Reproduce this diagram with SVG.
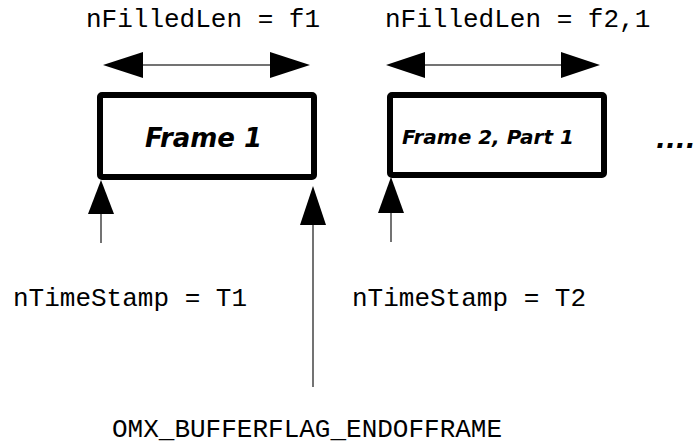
<svg xmlns="http://www.w3.org/2000/svg" width="696" height="444" viewBox="0 0 696 444">
<style>
.box{fill:#fff;stroke:#000;stroke-width:6;stroke-linejoin:round}
.lbl{font-family:"DejaVu Sans",sans-serif;font-weight:bold;font-style:italic;fill:#000}
.mono{font-family:"Liberation Mono","Courier New",monospace;font-size:26px;fill:#000}
.ln{stroke:#444;stroke-width:1.5;fill:none}
.hd{fill:#000}
</style>
<rect width="696" height="444" fill="#fff"/>
<g id="connectors">
  <line class="ln" x1="140" y1="65" x2="272" y2="65"/>
  <polygon class="hd" points="103,65 143,52 143,78"/>
  <polygon class="hd" points="310,65 270,52 270,78"/>
  <line class="ln" x1="422" y1="65" x2="564" y2="65"/>
  <polygon class="hd" points="386,65 425,52 425,78"/>
  <polygon class="hd" points="600,65 561,52 561,78"/>
  <line class="ln" x1="101" y1="210" x2="101" y2="243"/>
  <polygon class="hd" points="101,180 88,214 114,214"/>
  <line class="ln" x1="313" y1="222" x2="313" y2="387"/>
  <polygon class="hd" points="313,186 300,225 326,225"/>
  <line class="ln" x1="391" y1="210" x2="391" y2="242"/>
  <polygon class="hd" points="391,177 378,213 404,213"/>
</g>
<g id="frame1">
  <rect class="box" x="100" y="95" width="214" height="82" rx="2"/>
  <text class="lbl" x="145" y="147" font-size="26">Frame 1</text>
</g>
<g id="frame2">
  <rect class="box" x="390" y="95" width="214" height="80" rx="2"/>
  <text class="lbl" x="402" y="144" font-size="20">Frame 2, Part 1</text>
</g>
<g id="ellipsis">
  <text class="lbl" x="656" y="148" font-size="26">....</text>
</g>
<g id="labels">
  <text class="mono" x="86" y="27">nFilledLen = f1</text>
  <text class="mono" x="385" y="27">nFilledLen = f2,1</text>
  <text class="mono" x="13" y="306">nTimeStamp = T1</text>
  <text class="mono" x="352" y="306">nTimeStamp = T2</text>
  <text class="mono" x="112" y="437">OMX_BUFFERFLAG_ENDOFFRAME</text>
</g>
</svg>
